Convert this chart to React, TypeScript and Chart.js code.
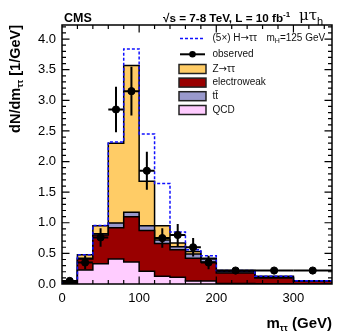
import React, { useEffect, useRef } from "react";
import { Chart, registerables } from "chart.js";
Chart.register(...registerables);

// ---- data ----
const binEdges = [0, 20, 40, 60, 80, 100, 120, 140, 160, 180, 200, 250, 300, 350];
const qcd = [0.0, 0.23, 0.33, 0.41, 0.36, 0.21, 0.125, 0.11, 0.05, 0.05, 0.01, 0.005, 0.0];
const ewk = [0.02, 0.18, 0.47, 0.51, 0.74, 0.665, 0.535, 0.45, 0.37, 0.31, 0.17, 0.095, 0.045];
const ttbar = [0.005, 0.01, 0.02, 0.075, 0.07, 0.075, 0.06, 0.05, 0.07, 0.05, 0.02, 0.01, 0.005];
const ztt = [0.02, 0.058, 0.13, 1.305, 2.4, 0.73, 0.23, 0.06, 0.04, 0.01, 0.02, 0.015, 0.005];
const higgs5x = [0, 0, 0.005, 0.02, 0.27, 0.77, 0.69, 0.18, 0.03, 0.04, 0, 0, 0];
const obsX = [10, 30, 50, 70, 90, 110, 130, 150, 170, 190, 225, 275, 325];
const obsY = [0.05, 0.35, 0.76, 2.85, 3.15, 1.85, 0.75, 0.8, 0.6, 0.35, 0.22, 0.22, 0.22];
const obsErr = [0.05, 0.11, 0.15, 0.37, 0.4, 0.31, 0.16, 0.18, 0.15, 0.11, 0.025, 0.025, 0.025];
const yTickValues = [0, 0.5, 1, 1.5, 2, 2.5, 3, 3.5, 4];
const yTickLabels = ["0.0", "0.5", "1.0", "1.5", "2.0", "2.5", "3.0", "3.5", "4.0"];
const xTickValues = [0, 100, 200, 300];
const xTickLabels = ["0", "100", "200", "300"];

const COL_Z = "#FFCC66";
const COL_EW = "#990000";
const COL_TT = "#9999CC";
const COL_QCD = "#FFCCFF";
const COL_H = "#1010FF";
const FONT = "'Liberation Sans', Arial, Helvetica, sans-serif";

function cumulate(...arrs: number[][]) {
  return arrs[0].map((_, i) => arrs.reduce((s, a) => s + a[i], 0));
}

function histPoints(vals: number[]) {
  const pts: { x: number; y: number }[] = [{ x: binEdges[0], y: 0 }];
  vals.forEach((v, i) => {
    pts.push({ x: binEdges[i], y: v });
    pts.push({ x: binEdges[i + 1], y: v });
  });
  pts.push({ x: binEdges[binEdges.length - 1], y: 0 });
  return pts;
}

function drawRich(
  ctx: CanvasRenderingContext2D,
  parts: { t: string; font: string; dy?: number }[],
  x: number,
  y: number,
  align: "left" | "right"
) {
  let w = 0;
  parts.forEach((p) => {
    ctx.font = p.font;
    w += ctx.measureText(p.t).width;
  });
  let cx = align === "left" ? x : x - w;
  ctx.textAlign = "left";
  parts.forEach((p) => {
    ctx.font = p.font;
    ctx.fillText(p.t, cx, y + (p.dy || 0));
    cx += ctx.measureText(p.t).width;
  });
}

const decorPlugin = {
  id: "decor",
  afterDatasetsDraw(chart: any) {
    const ctx: CanvasRenderingContext2D = chart.ctx;
    const xs = chart.scales.x;
    const ys = chart.scales.y;
    const { left, right, top, bottom } = chart.chartArea;
    ctx.save();
    // error bars
    ctx.strokeStyle = "#000";
    ctx.lineWidth = 2;
    obsX.forEach((x, i) => {
      const bi = binEdges.findIndex((e, k) => k < binEdges.length - 1 && x >= e && x < binEdges[k + 1]);
      const px = xs.getPixelForValue(x);
      const py = ys.getPixelForValue(obsY[i]);
      ctx.beginPath();
      ctx.moveTo(xs.getPixelForValue(binEdges[bi]), py);
      ctx.lineTo(xs.getPixelForValue(binEdges[bi + 1]), py);
      ctx.moveTo(px, Math.min(bottom, ys.getPixelForValue(obsY[i] - obsErr[i])));
      ctx.lineTo(px, ys.getPixelForValue(obsY[i] + obsErr[i]));
      ctx.stroke();
    });
    // frame
    ctx.lineWidth = 1.5;
    ctx.strokeRect(left, top, right - left, bottom - top);
    // ticks
    ctx.lineWidth = 1.2;
    ctx.beginPath();
    for (let v = 0; v <= 350; v += 20) {
      const px = xs.getPixelForValue(v);
      if (px <= left + 0.5 || px >= right - 0.5) continue;
      const len = v % 100 === 0 ? 7.5 : 4;
      ctx.moveTo(px, bottom);
      ctx.lineTo(px, bottom - len);
      ctx.moveTo(px, top);
      ctx.lineTo(px, top + len);
    }
    for (let k = 0; k <= 42; k++) {
      const v = k / 10;
      const py = ys.getPixelForValue(v);
      if (py >= bottom - 0.5 || py <= top + 0.5) continue;
      const len = k % 5 === 0 ? 7.5 : 4;
      ctx.moveTo(left, py);
      ctx.lineTo(left + len, py);
      ctx.moveTo(right, py);
      ctx.lineTo(right - len, py);
    }
    ctx.stroke();

    // legend
    ctx.fillStyle = "#111";
    ctx.textBaseline = "middle";
    const bx = 179, bw = 27, tx = 212.5;
    // higgs
    ctx.strokeStyle = COL_H;
    ctx.lineWidth = 1.5;
    ctx.setLineDash([3, 2]);
    ctx.beginPath();
    ctx.moveTo(bx + 1, 38.5);
    ctx.lineTo(bx + bw - 1, 38.5);
    ctx.stroke();
    ctx.setLineDash([]);
    const lf = `10px ${FONT}`;
    const lfs = `7px ${FONT}`;
    const af = `10px 'DejaVu Sans', sans-serif`;
    drawRich(ctx, [{ t: "(5×) H", font: lf }, { t: "→", font: af }, { t: "ττ", font: lf }], tx, 38.5, "left");
    drawRich(ctx, [{ t: "m", font: lf }, { t: "H", font: lfs, dy: 3 }, { t: "=125 GeV", font: lf }], 266.5, 38.5, "left");
    // observed
    ctx.strokeStyle = "#000";
    ctx.lineWidth = 2;
    ctx.beginPath();
    ctx.moveTo(bx + 1, 54.3);
    ctx.lineTo(bx + bw - 1, 54.3);
    ctx.stroke();
    ctx.fillStyle = "#000";
    ctx.beginPath();
    ctx.arc(bx + bw / 2, 54.3, 3.3, 0, Math.PI * 2);
    ctx.fill();
    ctx.fillStyle = "#111";
    drawRich(ctx, [{ t: "observed", font: lf }], tx, 54.3, "left");
    const boxes: [string, { t: string; font: string }[], number][] = [
      [COL_Z, [{ t: "Z", font: lf }, { t: "→", font: af }, { t: "ττ", font: lf }], 69],
      [COL_EW, [{ t: "electroweak", font: lf }], 82.6],
      [COL_TT, [{ t: "tt̄", font: lf }], 96.2],
      [COL_QCD, [{ t: "QCD", font: lf }], 110],
    ];
    boxes.forEach(([c, parts, yy]) => {
      ctx.fillStyle = c;
      ctx.fillRect(bx, yy - 4.5, bw, 9);
      ctx.strokeStyle = "#222";
      ctx.lineWidth = 1.5;
      ctx.strokeRect(bx, yy - 4.5, bw, 9);
      ctx.fillStyle = "#111";
      drawRich(ctx, parts, tx, yy, "left");
    });

    // header texts
    ctx.fillStyle = "#000";
    ctx.textBaseline = "alphabetic";
    drawRich(ctx, [{ t: "CMS", font: `bold 12.5px ${FONT}` }], 64, 22, "left");
    drawRich(
      ctx,
      [
        { t: "√s = 7-8 TeV, L = 10 fb", font: `bold 11.7px ${FONT}` },
        { t: "-1", font: `bold 8px ${FONT}`, dy: -5 },
      ],
      163,
      22,
      "left"
    );
    drawRich(
      ctx,
      [
        { t: "μτ", font: `15px 'DejaVu Serif', serif` },
        { t: "h", font: `11px ${FONT}`, dy: 5 },
      ],
      299,
      19.5,
      "left"
    );

    // x title
    drawRich(
      ctx,
      [
        { t: "m", font: `bold 15px ${FONT}` },
        { t: "ττ", font: `bold 9px ${FONT}`, dy: 3 },
        { t: " (GeV)", font: `bold 15px ${FONT}` },
      ],
      332,
      328,
      "right"
    );
    // y title (rotated)
    ctx.translate(20, 0);
    ctx.rotate(-Math.PI / 2);
    drawRich(
      ctx,
      [
        { t: "dN/dm", font: `bold 14.5px ${FONT}` },
        { t: "ττ", font: `bold 9px ${FONT}`, dy: 3 },
        { t: " [1/GeV]", font: `bold 14.5px ${FONT}` },
      ],
      -25,
      0,
      "right"
    );
    ctx.restore();
  },
};

export default function App() {
  const ref = useRef<HTMLCanvasElement>(null);
  useEffect(() => {
    const qcdTop = cumulate(qcd);
    const ewTop = cumulate(qcd, ewk);
    const ttTop = cumulate(qcd, ewk, ttbar);
    const zTop = cumulate(qcd, ewk, ttbar, ztt);
    const hTop = cumulate(qcd, ewk, ttbar, ztt, higgs5x);
    const histDs = (vals: number[], color: string) => ({
      data: histPoints(vals),
      backgroundColor: color,
      borderColor: "#000",
      borderWidth: 1.5,
      pointRadius: 0,
      fill: "origin",
      tension: 0,
    });
    const chart = new Chart(ref.current!, {
      type: "line",
      data: {
        datasets: [
          {
            data: obsX.map((x, i) => ({ x, y: obsY[i] })),
            showLine: false,
            pointRadius: 3.6,
            pointBackgroundColor: "#000",
            pointBorderColor: "#000",
            borderColor: "#000",
            backgroundColor: "#000",
          } as any,
          {
            data: histPoints(hTop),
            borderColor: COL_H,
            borderWidth: 1.5,
            borderDash: [3, 2],
            pointRadius: 0,
            fill: false,
            tension: 0,
          },
          histDs(qcdTop, COL_QCD),
          histDs(ewTop, COL_EW),
          histDs(ttTop, COL_TT),
          histDs(zTop, COL_Z),
        ],
      },
      plugins: [decorPlugin],
      options: {
        responsive: false,
        devicePixelRatio: 1,
        animation: false,
        events: [],
        layout: { padding: { top: 25, right: 17, left: 0, bottom: 0 } },
        plugins: { legend: { display: false }, tooltip: { enabled: false }, title: { display: false } },
        scales: {
          x: {
            type: "linear",
            min: 0,
            max: 350,
            grid: { display: false, drawTicks: false },
            border: { display: false },
            ticks: {
              autoSkip: false,
              maxRotation: 0,
              padding: 7,
              color: "#000",
              font: { family: FONT, size: 13 },
              callback: (v: any) => {
                const i = xTickValues.indexOf(Number(v));
                return i >= 0 ? xTickLabels[i] : "";
              },
            },
            afterBuildTicks: (s: any) => {
              s.ticks = xTickValues.map((value) => ({ value }));
            },
            afterFit: (s: any) => {
              s.height = 51;
            },
          },
          y: {
            type: "linear",
            min: 0,
            max: 4.23,
            grid: { display: false, drawTicks: false },
            border: { display: false },
            ticks: {
              autoSkip: false,
              padding: 6,
              color: "#000",
              font: { family: FONT, size: 13 },
              callback: (v: any) => {
                const i = yTickValues.findIndex((t) => Math.abs(t - Number(v)) < 1e-6);
                return i >= 0 ? yTickLabels[i] : "";
              },
            },
            afterBuildTicks: (s: any) => {
              s.ticks = yTickValues.map((value) => ({ value }));
            },
            afterFit: (s: any) => {
              s.width = 62;
            },
          },
        },
      } as any,
    });
    return () => chart.destroy();
  }, []);
  return (
    <div style={{ position: "fixed", left: 0, top: 0, width: 349, height: 335, background: "#fff" }}>
      <canvas ref={ref} width={349} height={335} style={{ display: "block" }} />
    </div>
  );
}
